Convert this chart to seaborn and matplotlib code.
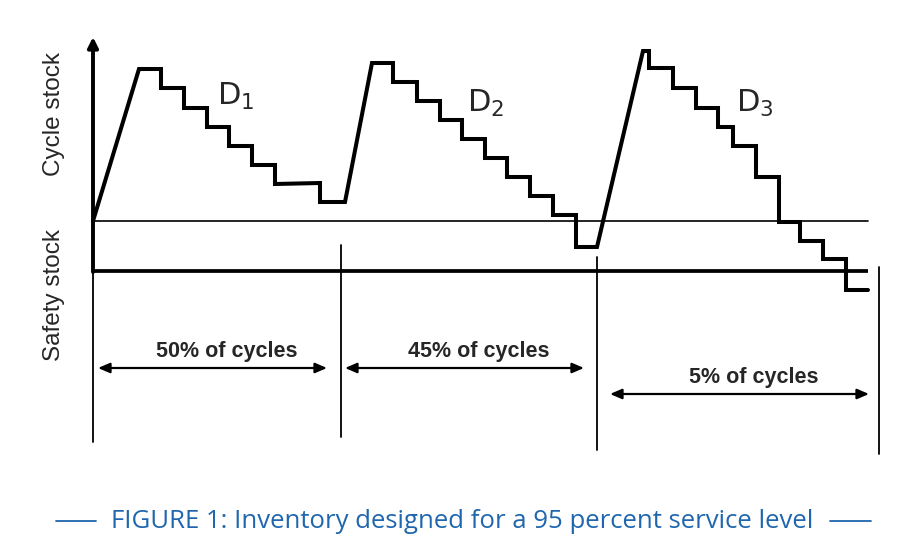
import numpy as np
import pandas as pd
import matplotlib
matplotlib.use("Agg")
import matplotlib.pyplot as plt
import seaborn as sns

# inventory path (time, stock level above the safety-stock floor)
time_pts = [0, 46, 68, 68, 91, 91, 114, 114, 136, 136, 159, 159, 182, 182, 227, 227, 252,
            279, 300, 300, 324, 324, 347, 347, 369, 369, 392, 392, 414, 414, 437, 437, 460, 460, 483, 483, 504,
            550, 556, 556, 580, 580, 603, 603, 625, 625, 640, 640, 663, 663, 686, 686, 707, 707, 730, 730, 753, 753, 775]
stock_pts = [50, 202, 202, 183, 183, 163, 163, 144, 144, 125, 125, 106, 106, 87, 88, 69, 69,
             208, 208, 189, 189, 170, 170, 151, 151, 132, 132, 113, 113, 94, 94, 75, 75, 56, 56, 24, 24,
             220, 220, 203, 203, 183, 183, 163, 163, 144, 144, 125, 125, 94, 94, 49, 49, 30, 30, 12, 12, -19, -19]

reorder_level = 50
horizon = 775
cycle_edges = [0, 248, 504, 786]
cycle_tops = [0, 26, 14, 4]
cycle_bottoms = [-171, -166, -179, -183]
cycle_share = ["50% of cycles", "45% of cycles", "5% of cycles"]
demand_labels = [r"D$_1$", r"D$_2$", r"D$_3$"]

df = pd.DataFrame({"t": time_pts, "stock": stock_pts})

sns.set_style("white")
plt.rcParams["mathtext.default"] = "regular"

fig = plt.figure(figsize=(9.07, 5.54), dpi=100)
ax = fig.add_axes([0, 0, 1, 1])
ax.set_xlim(-93, 814)
ax.set_ylim(271 - 554, 271)
ax.axis("off")

# inventory line
sns.lineplot(data=df, x="t", y="stock", sort=False, estimator=None,
             color="black", lw=2.9, ax=ax, solid_joinstyle="miter")

# safety stock floor and reorder level
ax.plot([0, horizon], [0, 0], color="black", lw=2.7, solid_capstyle="butt")
ax.plot([0, horizon], [reorder_level, reorder_level], color="black", lw=1.2)

# y axis with arrow
ax.annotate("", xy=(0, 234), xytext=(0, -1),
            arrowprops=dict(arrowstyle="-|>,head_length=0.6,head_width=0.3",
                            color="black", lw=2.8, shrinkA=0, shrinkB=0))

# cycle dividers
for x, top, bot in zip(cycle_edges, cycle_tops, cycle_bottoms):
    ax.plot([x, x], [top, bot], color="black", lw=1.3)

# span arrows and labels
arrow_y = [-97, -97, -123]
arrow_x = [(5, 234), (252, 491), (517, 776)]
for (x0, x1), y, lab in zip(arrow_x, arrow_y, cycle_share):
    ax.annotate("", xy=(x1, y), xytext=(x0, y),
                arrowprops=dict(arrowstyle="<|-|>,head_length=0.7,head_width=0.3",
                                color="black", lw=1.6, shrinkA=0, shrinkB=0))
    ax.text((x0 + x1) / 2 + 14, y + 17, lab, ha="center", va="center",
            fontsize=15.5, fontweight="bold", family="Liberation Sans")

# demand labels
for (x, y), lab in zip([(124, 166), (374, 159), (643, 159)], demand_labels):
    ax.text(x, y, lab, ha="left", va="baseline", fontsize=22, family="DejaVu Sans")

# axis region labels
ax.text(-39, 157, "Cycle stock", rotation=90, ha="center", va="center",
        fontsize=17.5, family="Liberation Sans")
ax.text(-39, -24, "Safety stock", rotation=90, ha="center", va="center",
        fontsize=17.5, family="Liberation Sans")

# caption
blue = "#1f66ae"
ax.text(369, -251, "FIGURE 1: Inventory designed for a 95 percent service level",
        ha="center", va="center", fontsize=18.5, color=blue, family="Open Sans")
ax.plot([-37, 3], [-250, -250], color=blue, lw=1.3)
ax.plot([737, 778], [-250, -250], color=blue, lw=1.3)

fig.savefig("out.png", dpi=100)
